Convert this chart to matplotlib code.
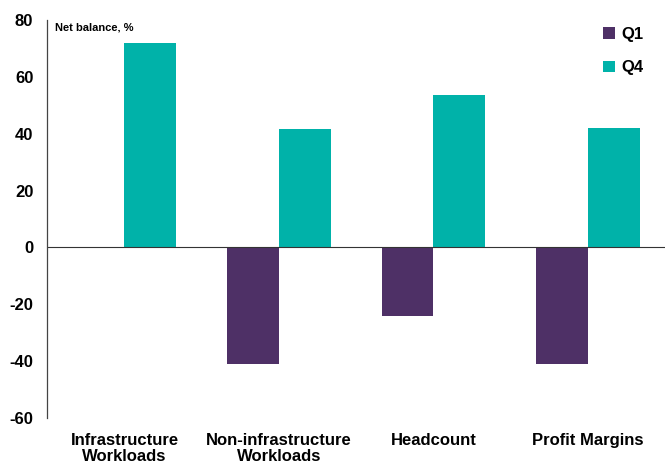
import matplotlib
matplotlib.use("Agg")
import matplotlib.pyplot as plt
import numpy as np

categories = ["Infrastructure\nWorkloads", "Non-infrastructure\nWorkloads", "Headcount", "Profit Margins"]
q1 = [0, -41, -24, -41]
q4 = [72, 41.5, 53.5, 42]
series_names = ["Q1", "Q4"]
colors = ["#4E3066", "#00B2A9"]

plt.rcParams['font.family'] = ['Liberation Sans', 'DejaVu Sans']
plt.rcParams['axes.unicode_minus'] = False

fig = plt.figure(figsize=(6.65, 4.66), dpi=100)
ax = fig.add_axes([0.071, 0.103, 0.929, 0.854])

x = np.arange(len(categories))
w = 0.335
ax.bar(x - w/2, q1, width=w, color=colors[0], label=series_names[0])
ax.bar(x + w/2, q4, width=w, color=colors[1], label=series_names[1])

ax.axhline(0, color="#333333", linewidth=0.8)
ax.set_xlim(-0.5, 3.5)
ax.set_ylim(-60, 80)
ax.set_yticks(range(-60, 81, 20))
ax.set_xticks(x)
ax.set_xticklabels(categories, fontsize=12, fontweight="bold", linespacing=1.05)
ax.tick_params(axis="y", length=0, labelsize=12, pad=10)
for lab in ax.get_yticklabels():
    lab.set_fontweight("bold")
ax.tick_params(axis="x", length=0, pad=11)
for s in ["top", "right", "bottom"]:
    ax.spines[s].set_visible(False)
ax.spines["left"].set_color("#444444")
ax.spines["left"].set_linewidth(0.9)

ax.text(0.012, 0.995, "Net balance, %", transform=ax.transAxes, fontsize=8,
        fontweight="bold", va="top", ha="left")

leg = ax.legend(loc="upper right", bbox_to_anchor=(0.99, 1.02), frameon=False,
                prop={"size": 12, "weight": "bold"}, handlelength=0.7, handleheight=0.7,
                handletextpad=0.4, labelspacing=1.1)

fig.savefig("out.png", dpi=100)
